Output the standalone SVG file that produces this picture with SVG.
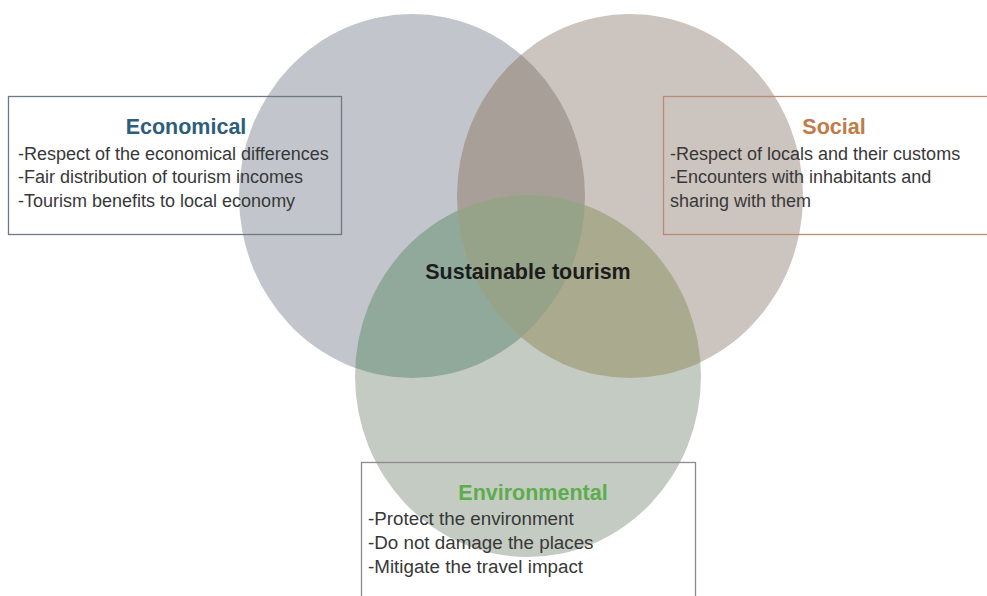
<svg xmlns="http://www.w3.org/2000/svg" width="987" height="596" viewBox="0 0 987 596">
<style>
  .body { font-family: "Liberation Sans", Arial, sans-serif; font-size: 18px; fill: #383838; }
  .env { font-size: 18.8px; }
  .title { font-family: "Liberation Sans", Arial, sans-serif; font-size: 21.5px; font-weight: bold; text-anchor: middle; }
  .box { fill: none; stroke-width: 1.3; }
</style>
<defs>
  <clipPath id="cE"><ellipse cx="412" cy="196" rx="173" ry="182"/></clipPath>
  <clipPath id="cS"><ellipse cx="630" cy="196" rx="173" ry="182"/></clipPath>
  <clipPath id="cV"><ellipse cx="528" cy="376" rx="173" ry="181"/></clipPath>
</defs>
<rect width="987" height="596" fill="#ffffff"/>
<g id="circles">
  <ellipse cx="412" cy="196" rx="173" ry="182" fill="#c2c6cc"/>
  <ellipse cx="630" cy="196" rx="173" ry="182" fill="#ccc4be"/>
  <ellipse cx="528" cy="376" rx="173" ry="181" fill="#c4cbc2"/>
  <ellipse cx="630" cy="196" rx="173" ry="182" fill="#a89f98" clip-path="url(#cE)"/>
  <g clip-path="url(#cV)">
    <ellipse cx="412" cy="196" rx="173" ry="182" fill="#90a99b"/>
    <ellipse cx="630" cy="196" rx="173" ry="182" fill="#aaaa8e"/>
    <g clip-path="url(#cE)">
      <ellipse cx="630" cy="196" rx="173" ry="182" fill="#97a389"/>
    </g>
  </g>
</g>
<g id="economical">
  <rect class="box" x="8.5" y="96.5" width="333" height="138" stroke="#6f7888"/>
  <text class="title" x="186" y="134" fill="#2e5e7c">Economical</text>
  <text class="body" x="18" y="160">-Respect of the economical differences</text>
  <text class="body" x="18" y="183">-Fair distribution of tourism incomes</text>
  <text class="body" x="18" y="207">-Tourism benefits to local economy</text>
</g>
<g id="social">
  <rect class="box" x="663.5" y="96.5" width="330" height="138" stroke="#b98c78"/>
  <text class="title" x="834" y="134" fill="#c07b48">Social</text>
  <text class="body" x="670" y="160">-Respect of locals and their customs</text>
  <text class="body" x="670" y="183">-Encounters with inhabitants and</text>
  <text class="body" x="670" y="207">sharing with them</text>
</g>
<g id="environmental">
  <rect class="box" x="361.5" y="462.5" width="334" height="140" stroke="#8c8c8c"/>
  <text class="title" x="533" y="500" fill="#5cad4c">Environmental</text>
  <text class="body env" x="368" y="525">-Protect the environment</text>
  <text class="body env" x="368" y="549">-Do not damage the places</text>
  <text class="body env" x="368" y="573">-Mitigate the travel impact</text>
</g>
<g id="sustainable-tourism">
  <text class="title" x="528" y="279" fill="#1c1c1c">Sustainable tourism</text>
</g>
<g id="connectors"></g>
</svg>
